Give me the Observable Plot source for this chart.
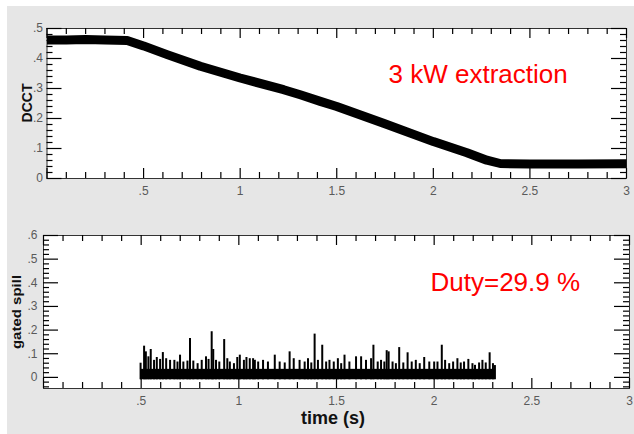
<!DOCTYPE html>
<html>
<head>
<meta charset="utf-8">
<script src="https://cdn.jsdelivr.net/npm/d3@7"></script>
<script src="https://cdn.jsdelivr.net/npm/@observablehq/plot@0.6"></script>
<style>
  html, body { margin: 0; padding: 0; background: #ffffff; }
  #wrap { position: relative; width: 634px; height: 434px; overflow: hidden; font-family: "Liberation Sans", Arial, sans-serif; }
  #bg { position: absolute; left: 7px; top: 6px; width: 627px; height: 428px; background: #e6e6e6; }
  .panel { position: absolute; left: 0; }
  .title { position: absolute; font-weight: bold; color: #111; white-space: nowrap; }
</style>
</head>
<body>
<div id="wrap">
  <div id="bg"></div>
  <div id="topPanel" class="panel" style="top:0px"></div>
  <div id="bottomPanel" class="panel" style="top:215px"></div>
  <div class="title" style="left:27px;top:103px;font-size:14px;transform:translate(-50%,-50%) rotate(-90deg)">DCCT</div>
  <div class="title" style="left:17px;top:312px;font-size:15px;transform:translate(-50%,-50%) rotate(-90deg) scaleY(0.8)">gated spill</div>
  <div class="title" style="left:333px;top:418px;font-size:18px;transform:translate(-50%,-50%)">time (s)</div>
</div>
<script>
// ---- data ----
const dcctTime  = [0, 0.1, 0.2, 0.3, 0.415, 0.5, 0.622, 0.794, 1.0, 1.225, 1.311, 1.415, 1.5, 1.742, 2.0, 2.174, 2.277, 2.346, 2.5, 2.75, 3.0];
const dcctValue = [0.462, 0.462, 0.463, 0.462, 0.460, 0.442, 0.413, 0.374, 0.335, 0.296, 0.279, 0.257, 0.240, 0.184, 0.123, 0.086, 0.061, 0.050, 0.048, 0.048, 0.049];

const spillTime = [0.497,0.515,0.524,0.537,0.549,0.566,0.580,0.597,0.611,0.628,0.648,0.670,0.686,0.699,0.716,0.737,0.750,0.767,0.789,0.810,0.832,0.845,0.861,0.869,0.883,0.900,0.925,0.941,0.954,0.975,0.992,1.005,1.026,1.039,1.056,1.073,1.082,1.099,1.124,1.149,1.184,1.209,1.235,1.260,1.281,1.311,1.337,1.354,1.371,1.388,1.405,1.427,1.447,1.464,1.486,1.507,1.524,1.541,1.566,1.600,1.626,1.651,1.677,1.689,1.711,1.728,1.745,1.757,1.767,1.787,1.804,1.821,1.842,1.864,1.885,1.906,1.926,1.949,1.975,2.000,2.017,2.039,2.056,2.077,2.097,2.119,2.136,2.153,2.175,2.196,2.209,2.230,2.247,2.264,2.284,2.301,2.311];
const spillPeak = [0.060,0.132,0.108,0.087,0.118,0.072,0.084,0.076,0.105,0.079,0.072,0.072,0.065,0.094,0.065,0.069,0.164,0.069,0.058,0.072,0.087,0.076,0.193,0.118,0.072,0.065,0.160,0.079,0.065,0.058,0.084,0.094,0.072,0.084,0.079,0.079,0.072,0.065,0.072,0.065,0.094,0.065,0.061,0.108,0.079,0.072,0.065,0.079,0.061,0.183,0.072,0.136,0.065,0.072,0.065,0.079,0.058,0.094,0.065,0.087,0.087,0.072,0.079,0.136,0.065,0.072,0.065,0.113,0.108,0.065,0.058,0.126,0.061,0.104,0.065,0.072,0.058,0.084,0.065,0.065,0.065,0.136,0.072,0.058,0.065,0.079,0.061,0.065,0.076,0.058,0.051,0.061,0.072,0.061,0.104,0.058,0.050];
const spillBase = [-0.010, 0.034];

const xMajor = [0, 0.5, 1, 1.5, 2, 2.5, 3];
const xLabels = [0.5, 1, 1.5, 2, 2.5, 3];
const topYMajor = [0, 0.1, 0.2, 0.3, 0.4, 0.5];
const botYMajor = [0, 0.1, 0.2, 0.3, 0.4, 0.5, 0.6];

const topNote = "3 kW extraction";
const botNote = "Duty=29.9 %";

// ---- helpers ----
const fmt = d => d === 0 ? "0" : String(d).replace(/^0\./, ".");
const range = (a, b, s) => d3.range(Math.round((b - a) / s) + 1).map(i => +(a + i * s).toFixed(4));
const xMinor = range(0, 3, 0.1);
const TICK = "black", LABEL = "#5a5a5a";

// inward ticks on all four sides, drawn exactly like the spill spikes (ruleX / ruleY with scale-unit lengths)
function tickMarks(p, xDom, yDom, yMajor, yMinor) {
  const fw = p.width - p.marginLeft - p.marginRight, fh = p.height - p.marginTop - p.marginBottom;
  const kx = (xDom[1] - xDom[0]) / fw, ky = (yDom[1] - yDom[0]) / fh;
  const xt = xMinor.map(t => ({t, len: xMajor.includes(t) ? 10 : 6}));
  const yt = yMinor.map(v => ({v, len: yMajor.some(m => Math.abs(m - v) < 1e-6) ? 15 : 6}));
  return [
    Plot.ruleX(xt, {x: "t", y1: yDom[0], y2: d => yDom[0] + d.len * ky, stroke: TICK, strokeWidth: 1.2}),
    Plot.ruleX(xt, {x: "t", y1: yDom[1], y2: d => yDom[1] - d.len * ky, stroke: TICK, strokeWidth: 1.2}),
    Plot.ruleY(yt, {y: "v", x1: xDom[0], x2: d => xDom[0] + d.len * kx, stroke: TICK, strokeWidth: 1.2}),
    Plot.ruleY(yt, {y: "v", x1: xDom[1], x2: d => xDom[1] - d.len * kx, stroke: TICK, strokeWidth: 1.2})
  ];
}
function labels(yMajor, yPad) {
  return [
    Plot.axisX(xLabels, {anchor: "bottom", tickSize: 0, tickPadding: 8, tickFormat: fmt, label: null, fill: LABEL, fontSize: 12}),
    Plot.axisY(yMajor, {anchor: "left", tickSize: 0, tickPadding: yPad, tickFormat: fmt, label: null, fill: LABEL, fontSize: 12})
  ];
}

// ---- top panel ----
const dcct = dcctTime.map((t, i) => ({t, v: dcctValue[i]}));
const topP = {width: 634, height: 215, marginLeft: 46.5, marginRight: 8, marginTop: 28, marginBottom: 37};
const topX = [0, 3], topY = [0, 0.5];
const topPlot = Plot.plot({
  ...topP,
  style: {background: "transparent", fontFamily: "Liberation Sans, Arial, sans-serif", overflow: "visible"},
  x: {domain: topX, axis: null},
  y: {domain: topY, axis: null},
  marks: [
    Plot.frame({fill: "white", stroke: "#333"}),
    Plot.line(dcct, {x: "t", y: "v", stroke: "black", strokeWidth: 9, strokeLinecap: "butt"}),
    ...tickMarks(topP, topX, topY, topYMajor, range(0, 0.5, 0.02)),
    ...labels(topYMajor, 4),
    Plot.text([topNote], {frameAnchor: "top-left", dx: 341.5, dy: 54, textAnchor: "start", lineAnchor: "bottom",
      fill: "#ff0000", fontSize: 26, fontFamily: "Liberation Sans, Arial, sans-serif"})
  ]
});
document.getElementById("topPanel").appendChild(topPlot);

// ---- bottom panel ----
const spill = spillTime.map((t, i) => ({t, v: spillPeak[i]}));
const t0 = spillTime[0], t1 = spillTime[spillTime.length - 1];
const botP = {width: 634, height: 219, marginLeft: 43, marginRight: 5, marginTop: 20, marginBottom: 46};
const botX = [0, 3], botY = [-0.047, 0.6];
const bottomPlot = Plot.plot({
  ...botP,
  style: {background: "transparent", fontFamily: "Liberation Sans, Arial, sans-serif", overflow: "visible"},
  x: {domain: botX, axis: null},
  y: {domain: botY, axis: null},
  marks: [
    Plot.frame({fill: "white", stroke: "#333"}),
    Plot.rect([{x1: t0, x2: t1, y1: spillBase[0], y2: spillBase[1]}], {x1: "x1", x2: "x2", y1: "y1", y2: "y2", fill: "black"}),
    Plot.ruleX(spill, {x: "t", y1: spillBase[0], y2: "v", stroke: "black", strokeWidth: 2}),
    ...tickMarks(botP, botX, botY, botYMajor, range(-0.04, 0.6, 0.02)),
    ...labels(botYMajor, 6),
    Plot.text([botNote], {frameAnchor: "top-left", dx: 387, dy: 55, textAnchor: "start", lineAnchor: "bottom",
      fill: "#ff0000", fontSize: 26, fontFamily: "Liberation Sans, Arial, sans-serif"})
  ]
});
document.getElementById("bottomPanel").appendChild(bottomPlot);
</script>
</body>
</html>
